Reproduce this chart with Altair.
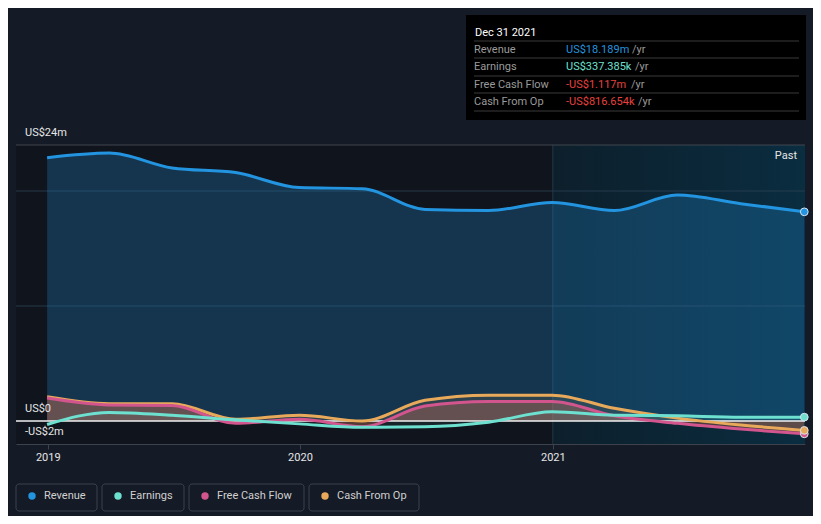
import altair as alt
import pandas as pd

# ---------------- data ----------------
dates = ["2018-12-31", "2019-03-31", "2019-06-30", "2019-09-30", "2019-12-31",
         "2020-03-31", "2020-06-30", "2020-09-30", "2020-12-31", "2021-03-31",
         "2021-06-30", "2021-09-30", "2021-12-31"]
revenue = [22.9, 23.3, 22.0, 21.6, 20.3, 20.2, 18.4, 18.3, 19.0, 18.3, 19.65, 18.9, 18.189]
earnings = [-0.3, 0.75, 0.5, 0.1, -0.25, -0.55, -0.5, -0.1, 0.8, 0.5, 0.45, 0.33, 0.337]
fcf = [2.0, 1.4, 1.35, -0.2, 0.15, -0.5, 1.3, 1.7, 1.7, 0.45, -0.2, -0.7, -1.117]
cfo = [2.1, 1.5, 1.5, 0.15, 0.5, 0.0, 1.8, 2.25, 2.25, 1.1, 0.25, -0.35, -0.817]

series_names = ["Revenue", "Earnings", "Free Cash Flow", "Cash From Op"]
series_colors = ["#2394df", "#6ee0d0", "#d2558e", "#e8aa5a"]

tick_values = [24, 0, -2]
tick_labels = ["US$24m", "US$0", "-US$2m"]
grid_values = [10, 20]
year_ticks = ["2019-01-01", "2020-01-01", "2021-01-01"]

tip_title = "Dec 31 2021"
tip_values = ["US$18.189m", "US$337.385k", "-US$1.117m", "-US$816.654k"]
tip_colors = ["#2394df", "#6ee0d0", "#e8413f", "#e8413f"]

x_domain = ["2018-11-16", "2022-01-01"]
past_start = "2021-01-01"
y_domain = [-2, 24]

# ---------------- tables ----------------
df = pd.DataFrame({"date": dates, "Revenue": revenue, "Earnings": earnings,
                   "FCF": fcf, "CFO": cfo})
last = df.iloc[[-1]]

BG = "#151b26"
FONT = "Roboto"

xscale = alt.Scale(domain=x_domain)
yscale = alt.Scale(domain=y_domain, nice=False, zero=False)
xaxis = alt.Axis(title=None, values=year_ticks, format="%Y", labelColor="#e6e6e6",
                 labelFontSize=11, labelFont=FONT, domainColor="#3d424c",
                 tickColor="#3d424c", tickSize=5, labelPadding=2, grid=False,
                 labelFlush=False)


def X(f):
    return alt.X(f, type="temporal", scale=xscale, axis=xaxis)


def Y(f):
    return alt.Y(f, type="quantitative", scale=yscale, axis=None)


regions = pd.DataFrame({"s": [x_domain[0], past_start], "e": [past_start, x_domain[1]],
                        "lo": [y_domain[0]] * 2, "hi": [y_domain[1]] * 2})

hist_bg = alt.Chart(regions.iloc[[0]]).mark_rect(color="#10141c").encode(
    x=X("s"), x2="e", y=Y("lo"), y2="hi")

past_bg = alt.Chart(regions.iloc[[1]]).mark_rect(
    color=alt.Gradient(gradient="linear",
                       stops=[alt.GradientStop(color="#0d1f2b", offset=0),
                              alt.GradientStop(color="#0a2d40", offset=1)],
                       x1=0, x2=1, y1=0, y2=0)).encode(
    x=X("s"), x2="e", y=Y("lo"), y2="hi")

past_line = alt.Chart(regions.iloc[[1]]).mark_rule(color="#22384a", strokeWidth=1).encode(
    x=X("s"), y=Y("lo"), y2="hi")

grid = alt.Chart(pd.DataFrame({"v": grid_values})).mark_rule(
    color="#2c4256", strokeWidth=1, opacity=0.8).encode(
    y=Y("v"), x=alt.value(0), x2=alt.value(789))

top_line = alt.Chart(pd.DataFrame({"v": [y_domain[1]]})).mark_rule(
    color="#41464f", strokeWidth=1).encode(y=Y("v"), x=alt.value(0), x2=alt.value(789))

base = alt.Chart(df)

rev_area = base.mark_area(color="#2394df", opacity=0.25, interpolate="monotone").encode(
    x=X("date"), y=Y("Revenue"), y2=alt.datum(0))
earn_area = base.mark_area(color="#6ee0d0", opacity=0.08, interpolate="monotone").encode(
    x=X("date"), y=Y("Earnings"), y2=alt.datum(0))
fcf_area = base.mark_area(color="#e06a5a", opacity=0.3, interpolate="monotone").encode(
    x=X("date"), y=Y("FCF"), y2=alt.datum(0))
cfo_area = base.mark_area(color="#e8aa5a", opacity=0.12, interpolate="monotone").encode(
    x=X("date"), y=Y("CFO"), y2=alt.datum(0))

zero_line = alt.Chart(pd.DataFrame({"v": [0]})).mark_rule(
    color="#f0f0f0", strokeWidth=1.5).encode(y=Y("v"), x=alt.value(0), x2=alt.value(789))


def line(field, color):
    return base.mark_line(color=color, strokeWidth=3, interpolate="monotone").encode(
        x=X("date"), y=Y(field))


def endpoint(field, color):
    return alt.Chart(last).mark_point(filled=True, fill=color, stroke="#d8e4ee",
                                      strokeWidth=1, size=60, opacity=1).encode(
        x=X("date"), y=Y(field))


lines = [line("Revenue", series_colors[0]), line("CFO", series_colors[3]),
         line("FCF", series_colors[2]), line("Earnings", series_colors[1])]
points = [endpoint("Revenue", series_colors[0]), endpoint("Earnings", series_colors[1]),
          endpoint("FCF", series_colors[2]), endpoint("CFO", series_colors[3])]

ylabels = alt.Chart(pd.DataFrame({"v": tick_values, "t": tick_labels})).mark_text(
    align="left", baseline="middle", dy=-12, color="#e6e6e6", fontSize=11, font=FONT).encode(
    y=Y("v"), x=alt.value(9), text="t:N")

past_text = alt.Chart(pd.DataFrame({"t": ["Past"]})).mark_text(
    align="right", baseline="middle", color="#e6e6e6", fontSize=11, font=FONT).encode(
    x=alt.value(781), y=alt.value(11), text="t:N")

# ---------------- tooltip box ----------------
one = pd.DataFrame({"a": [0]})
tip_layers = [alt.Chart(one).mark_rect(color="#000000").encode(
    x=alt.value(450), x2=alt.value(790), y=alt.value(-130), y2=alt.value(-25))]
tip_layers.append(alt.Chart(one).mark_text(
    text=tip_title, align="left", baseline="middle", color="#ffffff", fontSize=11,
    font=FONT).encode(x=alt.value(459), y=alt.value(-112)))
for sy in [-104, -87, -69, -52, -34]:
    tip_layers.append(alt.Chart(one).mark_rule(color="#3a3a3a", strokeWidth=1).encode(
        x=alt.value(458), x2=alt.value(783), y=alt.value(sy)))
row_y = [-95, -78, -60, -43]
yr_x = [616, 619, 615, 622]
for i in range(4):
    tip_layers.append(alt.Chart(one).mark_text(
        text=series_names[i], align="left", baseline="middle", color="#9a9a9a",
        fontSize=11, font=FONT).encode(x=alt.value(458), y=alt.value(row_y[i])))
    tip_layers.append(alt.Chart(one).mark_text(
        text=tip_values[i], align="left", baseline="middle", color=tip_colors[i],
        fontSize=11, font=FONT).encode(x=alt.value(550), y=alt.value(row_y[i])))
    tip_layers.append(alt.Chart(one).mark_text(
        text="/yr", align="left", baseline="middle", color="#9a9a9a",
        fontSize=11, font=FONT).encode(x=alt.value(yr_x[i]), y=alt.value(row_y[i])))

# ---------------- legend ----------------
box_x = [(0, 81), (86, 168), (173, 288), (293, 403)]
leg_layers = []
for i in range(4):
    x0, x1 = box_x[i]
    leg_layers.append(alt.Chart(one).mark_rect(
        fill=BG, stroke="#3d424c", strokeWidth=1, cornerRadius=3).encode(
        x=alt.value(x0), x2=alt.value(x1), y=alt.value(339), y2=alt.value(366)))
    leg_layers.append(alt.Chart(one).mark_point(
        filled=True, color=series_colors[i], size=55, opacity=1).encode(
        x=alt.value(x0 + 16), y=alt.value(351)))
    leg_layers.append(alt.Chart(one).mark_text(
        text=series_names[i], align="left", baseline="middle", color="#d0d0d0",
        fontSize=11, font=FONT).encode(x=alt.value(x0 + 28), y=alt.value(351)))

chart = alt.layer(
    hist_bg, past_bg, past_line, grid, top_line,
    rev_area, earn_area, fcf_area, cfo_area, zero_line,
    *lines, *points, ylabels, past_text, *tip_layers, *leg_layers
).properties(
    width=789, height=299, background=BG,
    autosize=alt.AutoSizeParams(type="none"),
    padding={"left": 8, "top": 137, "right": 8, "bottom": 72}
).configure_view(stroke=None)

chart.save("out.html", embed_options={"renderer": "svg", "actions": False})
